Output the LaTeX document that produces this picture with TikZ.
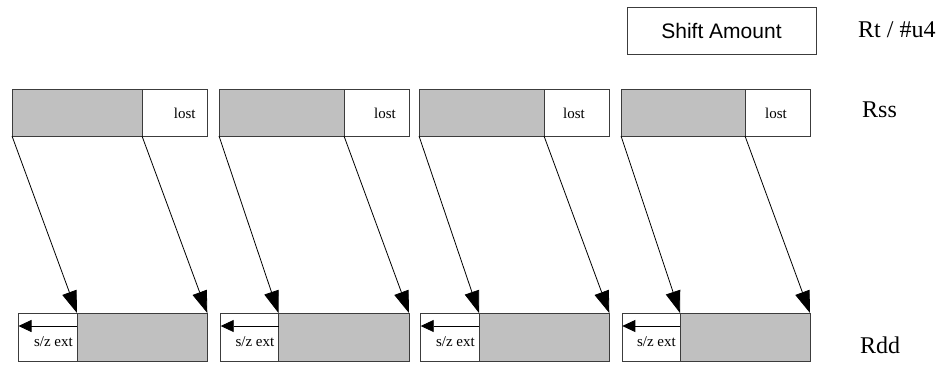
\documentclass[tikz,border=0pt]{standalone}
\usepackage{fontspec}
\setmainfont{Liberation Serif}
\newfontfamily\arialfont{Liberation Sans}
\usetikzlibrary{arrows.meta}
\begin{document}
\begin{tikzpicture}[x=1pt,y=-1pt,
  cell/.style={draw={rgb,255:red,60;green,60;blue,60}, line width=1pt, inner sep=0pt, outer sep=0pt, anchor=north west},
  grayc/.style={cell, fill={rgb,255:red,192;green,192;blue,192}},
  whitec/.style={cell, fill=white},
  biglabel/.style={font=\fontsize{24}{28}\selectfont, inner sep=0pt, anchor=base west},
  smalllabel/.style={font=\fontsize{15}{18}\selectfont, inner sep=0pt},
  bigarrow/.style={-{Triangle[length=22pt,width=15pt]}, line width=0.8pt, black},
  smallarrow/.style={-{Triangle[length=13pt,width=12pt]}, line width=0.8pt, black},
  ]
\useasboundingbox (0,0) rectangle (949,364);

% Shift amount box
\node[cell, minimum width=189pt, minimum height=47pt, font=\arialfont\fontsize{21}{25}\selectfont] (shift) at (627,7) {Shift Amount};
\node[biglabel] (rt) at (858,37) {Rt / \#u4};
\node[biglabel] (rss) at (862,117) {Rss};
\node[biglabel] (rdd) at (860,353) {Rdd};

\foreach \i/\tl/\ts/\tr/\bl/\bs/\br/\lx in {
  1/12/142/207/18.5/77/207.3/184.7,
  2/219/344/409/220.7/278.5/409/385,
  3/419/544/609/420.7/479/609.3/574,
  4/621/745/810/622.3/680/810/776}{
  % Rss cells
  \node[grayc, minimum width=\ts-\tl, minimum height=47] (tg\i) at (\tl,89) {};
  \node[whitec, minimum width=\tr-\ts, minimum height=47] (tw\i) at (\ts,89) {};
  \node[smalllabel, anchor=base] (lost\i) at (\lx,118) {lost};
  % Rdd cells
  \node[whitec, minimum width=\bs-\bl, minimum height=48] (be\i) at (\bl,313) {};
  \node[grayc, minimum width=\br-\bs, minimum height=48] (bg\i) at (\bs,313) {};
  \node[smalllabel, anchor=base east] (ext\i) at (\bs-4,346) {s/z ext};
  % connectors
  \draw[bigarrow] (tg\i.south west) -- (bg\i.north west);
  \draw[bigarrow] (tg\i.south east) -- (bg\i.north east);
  \draw[smallarrow] ([yshift=-13pt]be\i.north east) -- ([yshift=-13pt]be\i.north west);
}
\end{tikzpicture}
\end{document}
